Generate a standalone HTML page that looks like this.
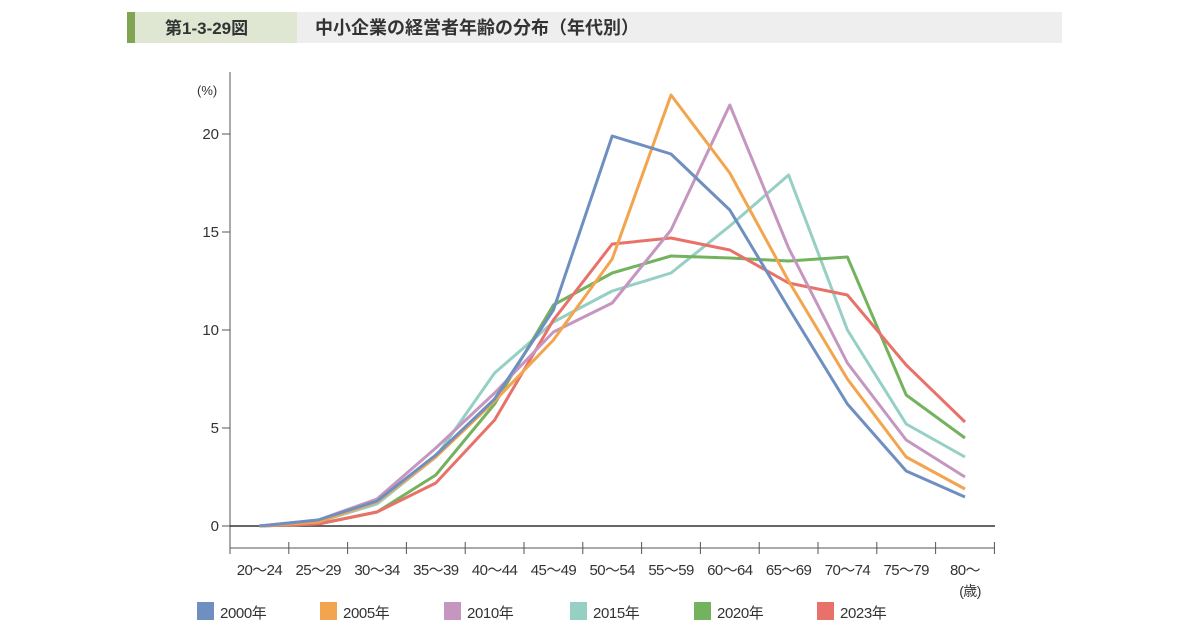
<!DOCTYPE html>
<html><head><meta charset="utf-8"><style>
body{margin:0;background:#fff;}
svg text{font-family:"Liberation Sans","Noto Sans CJK JP",sans-serif;}
</style></head><body>
<svg width="1200" height="630" viewBox="0 0 1200 630" xmlns="http://www.w3.org/2000/svg">
<rect x="127" y="12" width="8" height="31" fill="#7fa552"/>
<rect x="135" y="12" width="162" height="31" fill="#dfe7d2"/>
<rect x="297" y="12" width="765" height="31" fill="#eeeeee"/>
<text x="165" y="34" font-size="17" font-weight="bold" fill="#333">第1-3-29図</text>
<text x="315" y="34" font-size="18" font-weight="bold" fill="#333">中小企業の経営者年齢の分布（年代別）</text>

<text x="197" y="95" font-size="13" fill="#333">(%)</text>
<g font-size="15" fill="#333" text-anchor="end">
<text x="219" y="139">20</text><text x="219" y="237">15</text><text x="219" y="335">10</text><text x="219" y="433">5</text><text x="219" y="531">0</text>
</g>
<g stroke="#555" stroke-width="1">
<line x1="230" y1="72" x2="230" y2="548"/>
<line x1="222" y1="134" x2="230" y2="134"/><line x1="222" y1="232" x2="230" y2="232"/><line x1="222" y1="330" x2="230" y2="330"/><line x1="222" y1="428" x2="230" y2="428"/><line x1="222" y1="526" x2="230" y2="526"/>
<line x1="230" y1="548" x2="995" y2="548"/>
</g>
<g stroke="#555" stroke-width="1">
<line x1="230" y1="542" x2="230" y2="554"/><line x1="288.8" y1="542" x2="288.8" y2="554"/><line x1="347.6" y1="542" x2="347.6" y2="554"/><line x1="406.4" y1="542" x2="406.4" y2="554"/><line x1="465.2" y1="542" x2="465.2" y2="554"/><line x1="524" y1="542" x2="524" y2="554"/><line x1="582.8" y1="542" x2="582.8" y2="554"/><line x1="641.6" y1="542" x2="641.6" y2="554"/><line x1="700.4" y1="542" x2="700.4" y2="554"/><line x1="759.2" y1="542" x2="759.2" y2="554"/><line x1="818" y1="542" x2="818" y2="554"/><line x1="876.8" y1="542" x2="876.8" y2="554"/><line x1="935.6" y1="542" x2="935.6" y2="554"/><line x1="994.4" y1="542" x2="994.4" y2="554"/>
</g>
<g font-size="15" fill="#333" text-anchor="middle" letter-spacing="-0.6">
<text x="259.4" y="575">20～24</text><text x="318.2" y="575">25～29</text><text x="377" y="575">30～34</text><text x="435.8" y="575">35～39</text><text x="494.6" y="575">40～44</text><text x="553.4" y="575">45～49</text><text x="612.2" y="575">50～54</text><text x="671" y="575">55～59</text><text x="729.8" y="575">60～64</text><text x="788.6" y="575">65～69</text><text x="847.4" y="575">70～74</text><text x="906.2" y="575">75～79</text><text x="965" y="575">80～</text>
<text x="970" y="596" font-size="14">(歳)</text>
</g>
<line x1="230" y1="526" x2="995" y2="526" stroke="#333" stroke-width="1.5"/>
<g fill="none" stroke-width="3" stroke-linejoin="round">
<polyline stroke="#96cfc4" points="259.4,526 318.2,522 377,504 435.8,457 494.6,373 553.4,322 612.2,291 671,273 729.8,226 788.6,175 847.4,330 906.2,424 965,457"/>
<polyline stroke="#73b35e" points="259.4,526 318.2,524 377,512 435.8,475 494.6,404 553.4,305 612.2,273 671,256 729.8,258 788.6,261 847.4,257 906.2,395 965,438"/>
<polyline stroke="#e8716a" points="259.4,526 318.2,524 377,512 435.8,483 494.6,420 553.4,320 612.2,244 671,238 729.8,250 788.6,283 847.4,295 906.2,365 965,422"/>
<polyline stroke="#c596c0" points="259.4,526 318.2,520 377,499 435.8,448 494.6,393 553.4,332 612.2,303 671,230 729.8,105 788.6,248 847.4,363 906.2,440 965,477"/>
<polyline stroke="#f2a54e" points="259.4,526 318.2,522 377,502 435.8,457 494.6,401 553.4,340 612.2,259 671,95 729.8,173 788.6,281 847.4,379 906.2,457 965,489"/>
<polyline stroke="#6f8fc0" points="259.4,526 318.2,520 377,501 435.8,455 494.6,399 553.4,310 612.2,136 671,154 729.8,210 788.6,308 847.4,404 906.2,471 965,497"/>
</g>
<g font-size="15" fill="#333" letter-spacing="-0.4">
<rect x="197" y="602" width="17" height="18" fill="#6f8fc0"/><text x="220" y="618">2000年</text>
<rect x="320" y="602" width="17" height="18" fill="#f2a54e"/><text x="343" y="618">2005年</text>
<rect x="444" y="602" width="17" height="18" fill="#c596c0"/><text x="467" y="618">2010年</text>
<rect x="570" y="602" width="17" height="18" fill="#96cfc4"/><text x="593" y="618">2015年</text>
<rect x="694" y="602" width="17" height="18" fill="#73b35e"/><text x="717" y="618">2020年</text>
<rect x="817" y="602" width="17" height="18" fill="#e8716a"/><text x="840" y="618">2023年</text>
</g>
</svg>
</body></html>
